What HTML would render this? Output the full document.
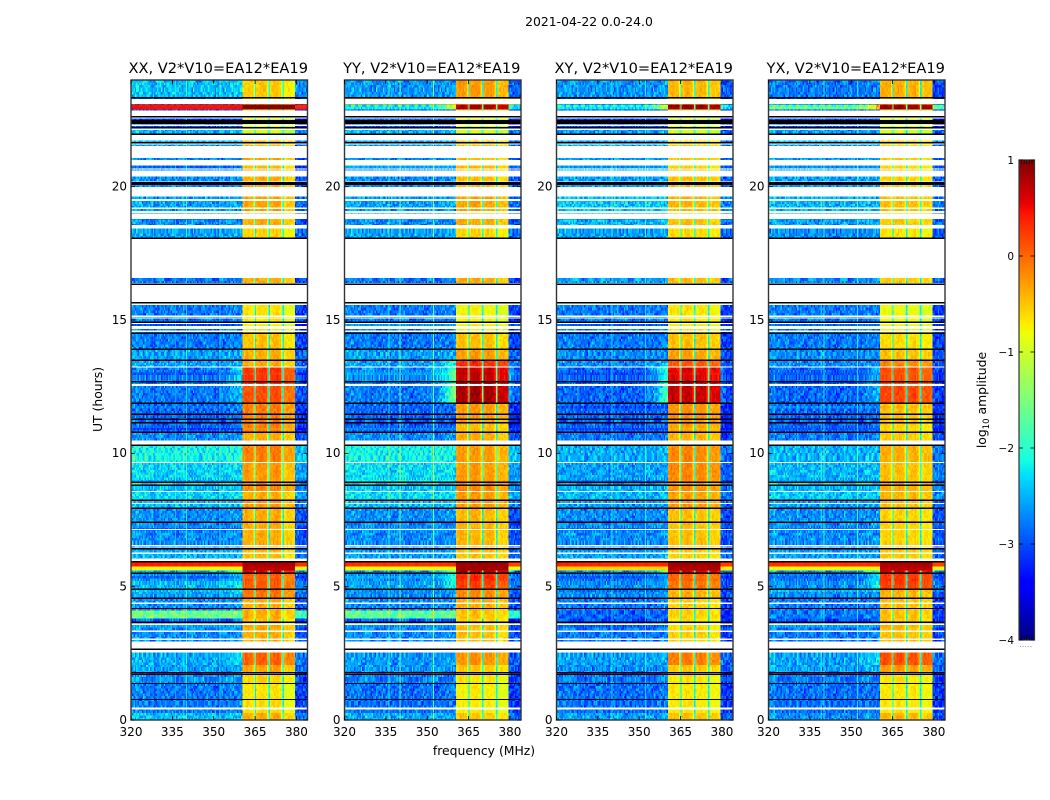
<!DOCTYPE html>
<html>
<head>
<meta charset="utf-8">
<title>2021-04-22 0.0-24.0</title>
<style>
html,body{margin:0;padding:0;background:#fff;}
svg{display:block;}
text{font-family:"DejaVu Sans","Liberation Sans",sans-serif;fill:#000;}
</style>
</head>
<body>
<svg id="fig" xmlns="http://www.w3.org/2000/svg" width="1050" height="800" viewBox="0 0 1050 800">
  <text x="589" y="26" font-size="12.4" text-anchor="middle">2021-04-22 0.0-24.0</text>
  <text transform="translate(102,399.5) rotate(-90)" font-size="12.4" text-anchor="middle">UT (hours)</text>
  <text x="484" y="755" font-size="12.4" text-anchor="middle">frequency (MHz)</text>
  <g id="panels"></g>
  <g id="cbar"></g>
  <text transform="translate(986,400) rotate(-90)" font-size="12.4" text-anchor="middle">log<tspan font-size="8.5" dy="3">10</tspan><tspan dy="-3"> amplitude</tspan></text>
</svg>
<script>
// Time segments (UT hours)
var segmentEdges = [0,.28,.73,1.37,1.78,2.08,2.53,2.95,3.66,3.81,4.11,4.56,4.90,5.23,5.50,5.61,5.76,5.91,6.36,7.41,7.94,8.24,8.57,8.91,9.66,10.30,10.79,11.15,11.88,12.56,13.23,13.49,13.90,14.50,15.57,16.38,16.57,18.07,18.44,18.78,19.01,19.64,19.98,20.39,20.80,21.07,21.48,22.0,22.2,22.54,22.83,22.91,23.1,23.38,24];

// log10 amplitude below 360 MHz, per segment
var bgXX = [-2.45,-2.8,-2.8,-2.7,-2.6,-2.55,null,-2.7,-2.9,-1.6,-2.7,-2.6,-2.5,-2.7,-2.6,-0.8,0.4,-2.5,-2.7,-2.7,-2.45,-2.35,-2.45,-2.35,-2.15,-2.7,-2.9,-2.9,-2.8,-2.8,-2.6,-2.6,-2.8,-2.8,null,-2.8,null,-2.6,-2.7,-2.7,-2.6,-2.7,-2.7,-2.7,-2.7,-2.7,-2.6,-2.5,-3.0,-3.0,-3.0,0.45,-2.9,-2.45];
var bgYY = [-2.55,-2.85,-2.85,-2.75,-2.65,-2.65,null,-2.7,-2.9,-1.7,-2.7,-2.7,-2.6,-2.7,-2.7,-0.8,0.3,-2.6,-2.7,-2.7,-2.45,-2.3,-2.4,-2.3,-2.15,-2.7,-2.9,-2.9,-2.8,-2.7,-2.6,-2.6,-2.8,-2.8,null,-2.8,null,-2.6,-2.7,-2.7,-2.6,-2.7,-2.7,-2.7,-2.7,-2.7,-2.6,-2.5,-3.0,-3.0,-3.0,-2.2,-0.2,-2.65];
var bgXY = [-2.6,-2.85,-2.85,-2.8,-2.7,-2.6,null,-2.8,-3.0,-2.9,-2.8,-2.7,-2.7,-2.8,-2.7,-0.6,0.35,-2.6,-2.7,-2.7,-2.6,-2.5,-2.5,-2.6,-2.55,-2.8,-2.9,-2.9,-2.9,-2.9,-2.7,-2.7,-2.8,-2.8,null,-2.6,null,-2.6,-2.5,-2.6,-2.4,-2.6,-2.6,-2.5,-2.6,-2.6,-2.5,-2.6,-3.0,-3.0,-3.0,-2.1,-3.0,-2.65];
var bgYX = [-2.7,-2.85,-2.85,-2.8,-2.6,-2.6,null,-2.8,-3.0,-2.8,-2.8,-2.7,-2.7,-2.8,-2.7,-0.8,0.3,-2.6,-2.7,-2.7,-2.6,-2.4,-2.5,-2.5,-2.5,-2.8,-2.9,-2.9,-2.9,-2.9,-2.7,-2.7,-2.8,-2.8,null,-2.7,null,-2.7,-2.6,-2.6,-2.5,-2.6,-2.6,-2.6,-2.6,-2.6,-2.6,-2.6,-3.0,-3.0,-3.0,-1.8,-3.0,-2.8];

// log10 amplitude in the 360-380 MHz windows, per segment
var rfiXX = [-0.4,-0.65,-0.7,-0.6,-0.35,0.0,null,-0.4,-0.5,-0.4,-0.4,-0.1,0.05,0.05,0.55,0.75,0.8,-0.5,-0.4,-0.4,-0.3,-0.4,-0.2,-0.3,-0.15,-0.4,-0.15,-0.15,0.1,0.25,-0.4,-0.4,-0.5,-0.7,null,-0.4,null,-0.6,-0.4,-0.4,-0.35,-0.4,-0.4,-0.4,-0.4,-0.4,-0.5,-1.0,-0.9,-0.8,-0.8,0.95,-0.5,-0.55];
var rfiYY = [-0.55,-0.75,-0.75,-0.7,-0.55,-0.25,null,-0.5,-0.6,-0.5,-0.4,-0.2,0.2,0.3,0.75,0.85,0.85,-0.5,-0.45,-0.45,-0.3,-0.3,-0.2,-0.3,-0.3,-0.4,-0.5,-0.3,0.8,0.65,0.3,-0.3,-0.5,-0.8,null,-0.4,null,-0.6,-0.4,-0.4,-0.35,-0.4,-0.5,-0.5,-0.5,-0.5,-0.55,-1.0,-0.9,-0.8,-0.8,0.8,-0.5,-0.3];
var rfiXY = [-0.5,-0.72,-0.72,-0.7,-0.55,-0.15,null,-0.6,-0.7,-0.6,-0.6,-0.4,-0.1,0,0.6,0.8,0.85,-0.6,-0.5,-0.5,-0.3,-0.35,-0.25,-0.2,-0.2,-0.45,-0.35,-0.25,0.65,0.55,0.05,-0.35,-0.5,-0.7,null,-0.5,null,-0.65,-0.5,-0.5,-0.45,-0.5,-0.5,-0.55,-0.55,-0.55,-0.6,-1.0,-0.9,-0.9,-0.9,0.9,-0.5,-0.45];
var rfiYX = [-0.45,-0.72,-0.72,-0.7,-0.3,0.1,null,-0.5,-0.55,-0.5,-0.5,-0.45,0.2,0.25,0.6,0.75,0.8,-0.55,-0.6,-0.6,-0.5,-0.45,-0.4,-0.5,-0.4,-0.55,-0.6,-0.5,0.15,0.1,-0.2,-0.5,-0.65,-0.85,null,-0.55,null,-0.7,-0.55,-0.55,-0.5,-0.55,-0.6,-0.6,-0.6,-0.6,-0.65,-1.0,-0.9,-0.9,-0.9,0.85,-0.6,-0.4];

// log10 offset by channel (1 MHz, from 319.4 MHz), shape of the quiet band
var bgProfile = [.08,.08,.07,.06,.05,.04,.03,.03,.03,.02,0,0,0,0,0,0,0,-.02,-.02,0,0,0,0,0,-.05,-.05,0,0,0,0,0,0,0,0,0,.02,.02,.02,.05,.05,.05,.05,.05,.05,.05,.05,.05,.05,.05,.05,.05,0,0,0,0,0,0,0,0,0,-.25,-.3,-.3,-.3,-.3];
// how much a strong window leaks into nearby channels
var leakProfile = [0,0,0,0,0,0,0,0,0,0,0,0,0,0,0,0,0,0,0,0,0,0,0,0,0,0,0,0,0,0,0,.03,.06,.1,.15,.2,.3,.4,.55,.7,.85,1,1,1,1,1,1,1,1,1,1,1,1,1,1,1,1,1,1,1,.4,.25,.1,.1,.1];
// level offset in each of the four 5 MHz windows
var windowOffsetXX = [0,0.02,0.02,-0.2];
var windowOffsetYY = [0,0.03,0,-0.15];
var windowOffsetXY = [0,0.03,0,-0.1];
var windowOffsetYX = [0.02,0.02,-0.02,-0.1];
// edge-to-centre shape across a window's channels
var windowShape = [-0.03,0.05,0.05,0];
// low-level grain, hand-typed
var grainA = [.21,-.14,.05,-.31,.17,.02,-.08,.29,-.22,.11,-.03,.25,-.18,.08,-.27,.14,-.06,.19,-.12,.33,-.24,.04,-.16];
var grainB = [-.1,.16,-.05,.09,-.2,.13,.02,-.15,.22,-.07,.05,-.18,.11,.19,-.12,.03,-.09];

// Always-flagged time spans (hours, start/end)
var flaggedStart = [.39,2.53,3.0,3.30,3.56,4.35,5.95,6.23,6.44,6.51,7.13,8.10,8.55,9.64,10.34,12.52,13.21,14.55,14.66,14.85,15.05,15.12,15.57,16.57,18.43,18.78,19.0,19.16,19.47,19.64,20.17,20.39,20.64,20.80,21.07,21.59,21.74,22.12,22.27,22.55,22.65,23.1];
var flaggedEnd   = [.47,2.95,3.05,3.36,3.62,4.40,6.06,6.29,6.47,6.57,7.17,8.14,8.59,9.68,10.49,12.60,13.25,14.60,14.77,14.95,15.10,15.16,16.38,18.07,18.57,18.97,19.08,19.21,19.53,19.98,20.20,20.60,20.68,21.0,21.52,21.64,21.97,22.18,22.33,22.61,22.85,23.28];
// Solid black scan boundaries (hours)
var blackHours = [.77,1.37,1.71,1.78,2.65,3.66,4.18,4.56,4.90,5.50,5.93,6.42,7.41,7.94,8.24,8.80,8.91,10.30,10.79,11.15,11.28,11.46,11.88,12.68,13.49,13.90,14.50,14.92,15.65,16.34,18.07,21.64,21.97,22.21,22.62,23.34];
var blackBandStart = [20.07,22.35];
var blackBandEnd = [20.17,22.50];

// Narrow vertical interference lines (MHz) and their lift per panel
var lineMHz = [336,340,352];
var lineLiftXX = [0.25,0.5,0.4];
var lineLiftYY = [0.7,1.0,1.1];
var lineLiftXY = [0.3,0.6,0.5];
var lineLiftYX = [0.3,0.7,0.6];

// Axes
var xTicks = [320,335,350,365,380];
var yTicks = [0,5,10,15,20];
var cbarTicks = [1,0,-1,-2,-3,-4];
var panelNames = ['XX','YY','XY','YX'];
var panelTitles = ['XX, V2*V10=EA12*EA19','YY, V2*V10=EA12*EA19','XY, V2*V10=EA12*EA19','YX, V2*V10=EA12*EA19'];
var panelBg = [bgXX,bgYY,bgXY,bgYX];
var panelRfi = [rfiXX,rfiYY,rfiXY,rfiYX];
var panelOffset = [windowOffsetXX,windowOffsetYY,windowOffsetXY,windowOffsetYX];
var panelLift = [lineLiftXX,lineLiftYY,lineLiftXY,lineLiftYX];
var panelLeft = [131,344.5,556.5,768.5];
var panelWidth = 176.5;
var plotTop = 80, plotBottom = 720;
var fMin = 320, fMax = 384, tMin = 0, tMax = 24, cMin = -4, cMax = 1;

var NS = 'http://www.w3.org/2000/svg';
function jetPart(x, pts){
  for (var i = 1; i < pts.length; i++) {
    if (x <= pts[i][0]) {
      var a = pts[i-1], b = pts[i];
      return a[1] + (b[1]-a[1]) * (x-a[0]) / (b[0]-a[0]);
    }
  }
  return pts[pts.length-1][1];
}
function jet(x){
  x = Math.max(0, Math.min(1, x));
  var r = jetPart(x, [[0,0],[.35,0],[.66,1],[.89,1],[1,.5]]);
  var g = jetPart(x, [[0,0],[.125,0],[.375,1],[.64,1],[.91,0],[1,0]]);
  var b = jetPart(x, [[0,.5],[.11,1],[.34,1],[.65,0],[1,0]]);
  return 'rgb(' + Math.round(r*255) + ',' + Math.round(g*255) + ',' + Math.round(b*255) + ')';
}
function colorOf(v){ return jet((v - cMin) / (cMax - cMin)); }
function yScale(h){ return plotBottom - (h - tMin) / (tMax - tMin) * (plotBottom - plotTop); }
function xScaleFor(left){
  return function(f){ return left + (f - fMin) / (fMax - fMin) * panelWidth; };
}
function make(tag, attrs){
  var el = document.createElementNS(NS, tag);
  for (var k in attrs) el.setAttribute(k, attrs[k]);
  return el;
}

function cellValue(p, s, ch, sub, row){
  var bg = panelBg[p][s], rfi = panelRfi[p][s];
  var g = ch*2 + sub;
  var grain = grainA[(g*3 + row*5 + g*row + p*7) % grainA.length] + grainB[(g + row*7 + g*row*2 + p) % grainB.length];
  var f = 319.4 + ch;
  var inWindows = f >= 360.4 && f < 379.4;
  var wide = bg > -1;
  if (wide) {
    return inWindows ? rfi + grain*0.1 : bg + bgProfile[ch]*0.3 + grain*0.1;
  }
  if (!inWindows) {
    return bg + bgProfile[ch] + leakProfile[ch]*Math.max(0, rfi + 0.2)*1.4 + grain;
  }
  var w = Math.floor((f - 360.4) / 5);
  var pos = Math.round(f - 360.4 - w*5);
  if (pos === 4) {
    if (sub === 1) return Math.max(bg + 0.5, -2.2, rfi - 2.4) + grain*0.3;
    return rfi + panelOffset[p][w] - 0.35 + grain*0.3;
  }
  return rfi + panelOffset[p][w] + windowShape[pos] + grain*0.35;
}

var panels = document.getElementById('panels');
panelNames.forEach(function(name, p){
  var left = panelLeft[p], right = left + panelWidth;
  var xScale = xScaleFor(left);
  var g = make('g', {});
  
  
  var clipId = 'clip' + p;
  var clip = make('clipPath', {id: clipId});
  clip.appendChild(make('rect', {x: left, y: plotTop, width: panelWidth, height: plotBottom - plotTop}));
  g.appendChild(clip);
  var cells = make('g', {'clip-path': 'url(#' + clipId + ')', 'shape-rendering': 'crispEdges'});
  
  
  var frag = document.createDocumentFragment();

  for (var s = 0; s < segmentEdges.length - 1; s++) {
    if (panelBg[p][s] === null) continue;
    var t0 = segmentEdges[s], t1 = segmentEdges[s+1];
    var rows = Math.max(1, Math.ceil((t1 - t0) / 0.1));
    for (var r = 0; r < rows; r++) {
      var ra = t0 + (t1 - t0) * r / rows, rb = t0 + (t1 - t0) * (r + 1) / rows;
      var yTop = yScale(rb), yBot = yScale(ra);
      var rowKey = Math.round(ra * 10) + s;
      for (var ch = 0; ch < bgProfile.length; ch++) {
        for (var sub = 0; sub < 2; sub++) {
          var x0 = xScale(319.4 + ch + sub*0.5), x1 = xScale(319.9 + ch + sub*0.5);
          var cell = document.createElementNS(NS, 'rect');
          cell.setAttribute('x', x0.toFixed(2));
          cell.setAttribute('y', yTop.toFixed(2));
          cell.setAttribute('width', (x1 - x0 + 0.3).toFixed(2));
          cell.setAttribute('height', (yBot - yTop + 0.3).toFixed(2));
          cell.setAttribute('fill', colorOf(cellValue(p, s, ch, sub, rowKey)));
          
          
          frag.appendChild(cell);
        }
      }
    }
    // narrow interference lines
    if (panelBg[p][s] < -1) {
      for (var l = 0; l < lineMHz.length; l++) {
        var ln = document.createElementNS(NS, 'rect');
        ln.setAttribute('x', xScale(lineMHz[l]).toFixed(2));
        ln.setAttribute('y', yScale(t1).toFixed(2));
        ln.setAttribute('width', '1');
        ln.setAttribute('height', (yScale(t0) - yScale(t1)).toFixed(2));
        ln.setAttribute('fill', colorOf(panelBg[p][s] + panelLift[p][l]));
        
        
        frag.appendChild(ln);
      }
    }
  }
  flaggedStart.forEach(function(a, i){
    var gap = document.createElementNS(NS, 'rect');
    gap.setAttribute('x', left);
    gap.setAttribute('y', yScale(flaggedEnd[i]));
    gap.setAttribute('width', panelWidth);
    gap.setAttribute('height', yScale(a) - yScale(flaggedEnd[i]));
    gap.setAttribute('fill', '#fff');
    
    
    frag.appendChild(gap);
  });
  blackHours.forEach(function(h){
    var bl = document.createElementNS(NS, 'rect');
    bl.setAttribute('x', left);
    bl.setAttribute('y', (yScale(h) - 0.7).toFixed(2));
    bl.setAttribute('width', panelWidth);
    bl.setAttribute('height', '1.4');
    bl.setAttribute('fill', '#000');
    
    
    frag.appendChild(bl);
  });
  blackBandStart.forEach(function(a, i){
    var bb = document.createElementNS(NS, 'rect');
    bb.setAttribute('x', left);
    bb.setAttribute('y', yScale(blackBandEnd[i]));
    bb.setAttribute('width', panelWidth);
    bb.setAttribute('height', yScale(a) - yScale(blackBandEnd[i]));
    bb.setAttribute('fill', '#000');
    
    
    frag.appendChild(bb);
  });
  cells.appendChild(frag);
  g.appendChild(cells);

  // frame
  var frame = make('rect', {x: left, y: plotTop, width: panelWidth, height: plotBottom - plotTop, fill: 'none', stroke: '#333', 'stroke-width': 1.4});
  
  
  g.appendChild(frame);

  // x ticks
  xTicks.forEach(function(tv){
    var x = xScale(tv);
    [[plotBottom, plotBottom - 4], [plotTop, plotTop + 4]].forEach(function(e){
      var tick = make('line', {x1: x, x2: x, y1: e[0], y2: e[1], stroke: '#000', 'stroke-width': 0.8});
      
      
      g.appendChild(tick);
    });
    var lab = make('text', {x: x, y: 736, 'font-size': 12, 'text-anchor': 'middle'});
    
    
    lab.textContent = tv;
    g.appendChild(lab);
  });
  // y ticks
  yTicks.forEach(function(tv){
    var y = yScale(tv);
    [[left, left + 4], [right, right - 4]].forEach(function(e){
      var tick = make('line', {x1: e[0], x2: e[1], y1: y, y2: y, stroke: '#000', 'stroke-width': 0.8});
      
      
      g.appendChild(tick);
    });
    var lab = make('text', {x: left - 4, y: y + 3.8, 'font-size': 12, 'text-anchor': 'end'});
    
    
    lab.textContent = tv;
    g.appendChild(lab);
  });
  var title = make('text', {x: left + panelWidth/2 - 1, y: 73, 'font-size': 14.6, 'text-anchor': 'middle'});
  
  
  title.textContent = panelTitles[p];
  g.appendChild(title);
  panels.appendChild(g);
});

// Colorbar
var cbar = document.getElementById('cbar');
var cbLeft = 1019, cbRight = 1034.5, cbTop = 160, cbBottom = 640;
function cScale(v){ return cbBottom - (v - cMin) / (cMax - cMin) * (cbBottom - cbTop); }
for (var i = 0; i < 240; i++) {
  var va = cMin + (cMax - cMin) * i / 240, vb = cMin + (cMax - cMin) * (i + 1) / 240;
  var sw = document.createElementNS(NS, 'rect');
  sw.setAttribute('x', cbLeft);
  sw.setAttribute('y', cScale(vb).toFixed(2));
  sw.setAttribute('width', cbRight - cbLeft);
  sw.setAttribute('height', (cScale(va) - cScale(vb) + 0.3).toFixed(2));
  sw.setAttribute('fill', colorOf((va + vb) / 2));
  sw.setAttribute('shape-rendering', 'crispEdges');
  
  
  cbar.appendChild(sw);
}
var cbFrame = make('rect', {x: cbLeft, y: cbTop, width: cbRight - cbLeft, height: cbBottom - cbTop, fill: 'none', stroke: '#333', 'stroke-width': 1.2});


cbar.appendChild(cbFrame);
cbarTicks.forEach(function(tv){
  var y = cScale(tv);
  [[cbLeft, cbLeft + 4], [cbRight, cbRight - 4]].forEach(function(e){
    var tick = make('line', {x1: e[0], x2: e[1], y1: y, y2: y, stroke: '#000', 'stroke-width': 0.8});
    
    
    cbar.appendChild(tick);
  });
  var lab = make('text', {x: cbLeft - 5, y: y + 4, 'font-size': 10.5, 'text-anchor': 'end'});
  
  
  lab.textContent = tv < 0 ? '\u2212' + Math.abs(tv) : String(tv);
  cbar.appendChild(lab);
});
// edge hatch marks at both colorbar ends
[1, 2, 3, 4, 5].forEach(function(n){
  var x = cbLeft + n * 2.6;
  [[cbTop, cbTop + 4], [cbBottom, cbBottom - 4]].forEach(function(e){
    var tick = make('line', {x1: x, x2: x, y1: e[0], y2: e[1], stroke: '#000', 'stroke-width': 0.6});
    
    
    cbar.appendChild(tick);
  });
  var dot = make('rect', {x: x - 1.6, y: 646, width: 1, height: 1, fill: '#999'});
  
  
  cbar.appendChild(dot);
});
</script>
</body>
</html>
